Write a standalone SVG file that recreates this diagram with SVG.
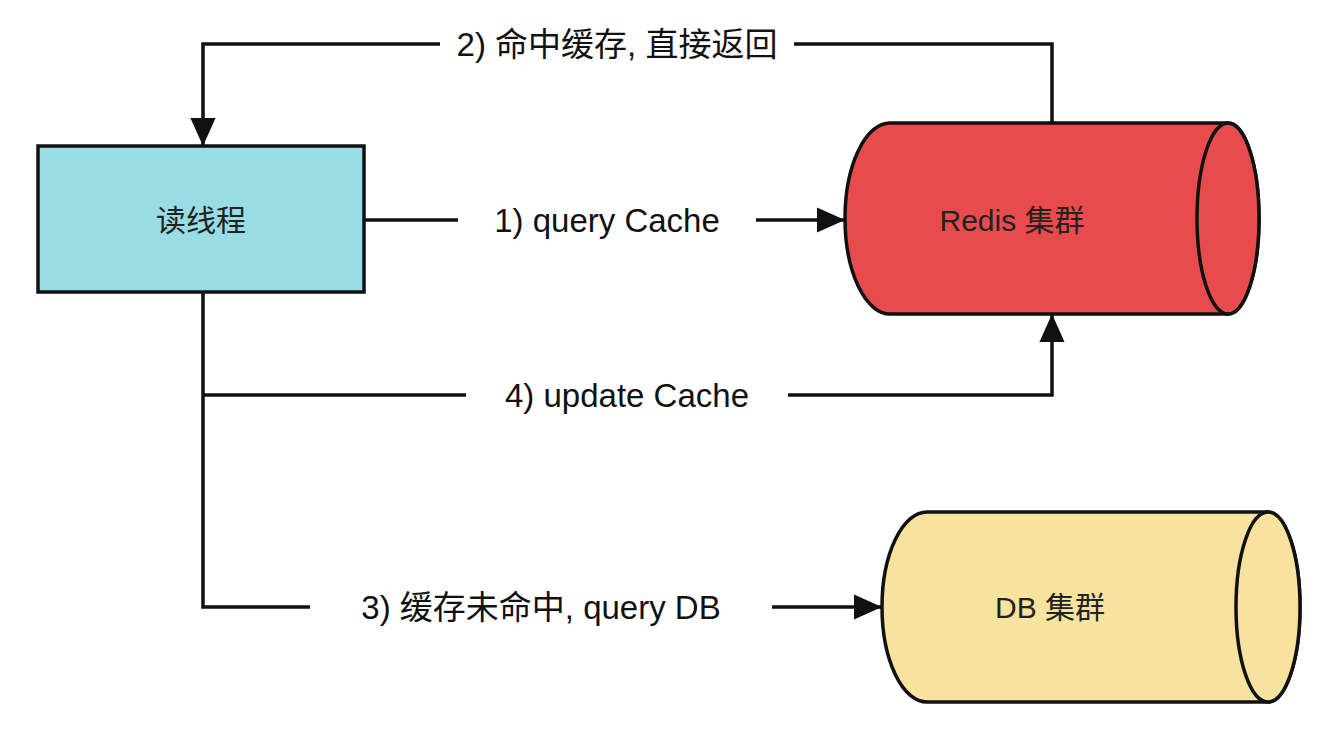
<svg xmlns="http://www.w3.org/2000/svg" width="1336" height="733" viewBox="0 0 1336 733">
<style>
.ln{fill:none;stroke:#111;stroke-width:3.5}
.lb{font-family:"Liberation Sans","Noto Sans CJK SC",sans-serif;font-size:33px;fill:#111;text-anchor:middle;dominant-baseline:central}
.nt{font-family:"Liberation Sans","Noto Sans CJK SC",sans-serif;font-size:30px;fill:#222;text-anchor:middle;dominant-baseline:central}
.bg{fill:#fff}
</style>
<defs>
<marker id="ah" viewBox="0 0 10 10" refX="9" refY="5" markerWidth="9" markerHeight="9" markerUnits="userSpaceOnUse" orient="auto">
<path d="M0,0L10,5L0,10z" fill="#111"/>
</marker>
<marker id="a" viewBox="0 0 10 10" refX="10" refY="5" markerWidth="8" markerHeight="8" orient="auto"><path d="M0,0.5L10,5L0,9.5z" fill="#111"/></marker>
</defs>
<rect width="1336" height="733" fill="#fff"/>
<g id="connectors">
<path class="ln" d="M1052 123V44H203V146" marker-end="url(#a)"/>
<path class="ln" d="M364 220H845" marker-end="url(#a)"/>
<path class="ln" d="M203 292V607H882" marker-end="url(#a)"/>
<path class="ln" d="M203 395H1052V314" marker-end="url(#a)"/>
<rect class="bg" x="440" y="24" width="354" height="40"/>
<text class="lb" x="617" y="44">2) 命中缓存, 直接返回</text>
<rect class="bg" x="458" y="200" width="298" height="40"/>
<text class="lb" x="607" y="220">1) query Cache</text>
<rect class="bg" x="466" y="375" width="322" height="40"/>
<text class="lb" x="627" y="395">4) update Cache</text>
<rect class="bg" x="310" y="587" width="462" height="40"/>
<text class="lb" x="541" y="607">3) 缓存未命中, query DB</text>
</g>
<g id="read">
<rect x="38" y="146" width="326" height="146" fill="#97dde3" stroke="#111" stroke-width="3.5"/>
<text class="nt" x="201" y="220">读线程</text>
</g>
<g id="redis">
<path d="M890 123H1228A31 95.5 0 0 1 1228 314H890A45 95.5 0 0 1 890 123Z" fill="#e84b4b" stroke="#111" stroke-width="3.5"/>
<ellipse cx="1228" cy="218.5" rx="31" ry="95.5" fill="#e84b4b" stroke="#111" stroke-width="3.5"/>
<text class="nt" x="1012" y="220" fill="#5a1010">Redis  集群</text>
</g>
<g id="db">
<path d="M927 512H1268A32 95 0 0 1 1268 702H927A45 95 0 0 1 927 512Z" fill="#f7e39e" stroke="#111" stroke-width="3.5"/>
<ellipse cx="1268" cy="607" rx="32" ry="95" fill="#f7e39e" stroke="#111" stroke-width="3.5"/>
<text class="nt" x="1050" y="607">DB 集群</text>
</g>
</svg>
